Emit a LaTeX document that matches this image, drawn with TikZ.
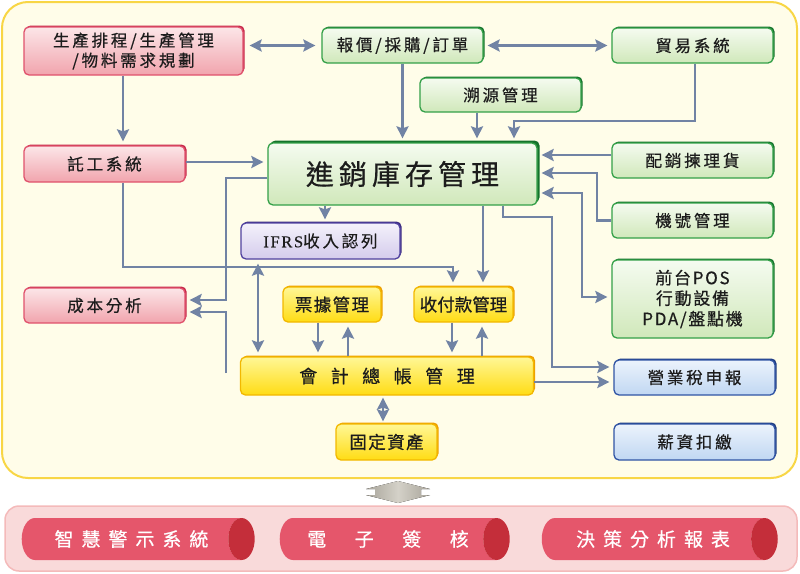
\documentclass[tikz,border=0pt]{standalone}
\usepackage{fontspec}
\setmainfont{Noto Sans CJK TC}[FakeBold=0.6]
\newfontfamily\latinserif{Liberation Serif}[FakeBold=0.4]
\usepackage{tikz}
\usetikzlibrary{positioning, arrows.meta, shapes.geometric, shadows, calc}
\definecolor{lineBlue}{RGB}{113,131,164}
\definecolor{panelFill}{RGB}{255,253,233}
\definecolor{panelEdge}{RGB}{248,214,70}
\definecolor{redEdge}{RGB}{224,82,108}
\definecolor{redDark}{RGB}{198,38,72}
\definecolor{redFill}{RGB}{241,164,173}
\definecolor{redTop}{RGB}{252,230,232}
\definecolor{greenEdge}{RGB}{52,160,72}
\definecolor{greenDark}{RGB}{20,114,44}
\definecolor{greenFill}{RGB}{208,232,186}
\definecolor{greenTop}{RGB}{245,251,240}
\definecolor{purpleEdge}{RGB}{80,66,160}
\definecolor{purpleDark}{RGB}{60,44,130}
\definecolor{purpleFill}{RGB}{212,204,236}
\definecolor{purpleTop}{RGB}{244,241,251}
\definecolor{yellowEdge}{RGB}{242,184,0}
\definecolor{yellowDark}{RGB}{238,158,0}
\definecolor{yellowFill}{RGB}{255,220,20}
\definecolor{yellowTop}{RGB}{255,247,150}
\definecolor{blueEdge}{RGB}{48,84,164}
\definecolor{blueDark}{RGB}{30,60,130}
\definecolor{blueFill}{RGB}{192,215,242}
\definecolor{blueTop}{RGB}{236,243,252}
\definecolor{pinkPanel}{RGB}{249,218,218}
\definecolor{pinkEdge}{RGB}{244,186,186}
\definecolor{tubeBody}{RGB}{229,86,107}
\definecolor{tubeEnd}{RGB}{196,46,58}
\definecolor{grayArrow}{RGB}{168,164,154}
\definecolor{grayLight}{RGB}{212,209,200}
\definecolor{ink}{RGB}{28,28,28}

\begin{document}
\begin{tikzpicture}[
  x=1pt, y=-1pt,
  every node/.style={text=ink},
  box/.style={rounded corners=5pt, inner sep=0pt, align=center, line width=1.3pt,
    minimum width=161pt, minimum height=35pt,
    font={\fontsize{16.5}{20}\selectfont\addfontfeatures{LetterSpace=17}}},
  rbox/.style={box, draw=redEdge, top color=redTop, bottom color=redFill,
    general shadow={fill=redDark, shadow xshift=1.5pt, shadow yshift=1.5pt}},
  gbox/.style={box, draw=greenEdge, top color=greenTop, bottom color=greenFill,
    general shadow={fill=greenDark, shadow xshift=1.5pt, shadow yshift=1.5pt}},
  pbox/.style={box, draw=purpleEdge, top color=purpleTop, bottom color=purpleFill,
    general shadow={fill=purpleDark, shadow xshift=1.5pt, shadow yshift=1.5pt}},
  ybox/.style={box, draw=yellowEdge, top color=yellowTop, bottom color=yellowFill,
    general shadow={fill=yellowDark, shadow xshift=1.5pt, shadow yshift=1.5pt},
    font={\fontsize{17.5}{20}\selectfont\addfontfeatures{LetterSpace=8}}},
  bbox/.style={box, draw=blueEdge, top color=blueTop, bottom color=blueFill,
    general shadow={fill=blueDark, shadow xshift=1.5pt, shadow yshift=1.5pt}},
  tube/.style={cylinder, shape border rotate=0, aspect=1.5, inner sep=0pt,
    minimum height=233pt, minimum width=42pt, cylinder uses custom fill,
    cylinder body fill=tubeBody, cylinder end fill=tubeEnd, text=white,
    font={\fontsize{19}{20}\selectfont\addfontfeatures{LetterSpace=42}}},
  ar/.style={draw=lineBlue, line width=2.6pt,
    -{Stealth[length=12pt, width=12pt, inset=2pt]}, shorten >=4pt},
  ar2/.style={ar, {Stealth[length=12pt, width=12pt, inset=2pt]}-{Stealth[length=12pt, width=12pt, inset=2pt]},
    shorten <=4pt},
]
  \useasboundingbox (0,0) rectangle (800,573);
  \draw[fill=panelFill, draw=panelEdge, line width=2pt, rounded corners=26pt]
    (2,2) rectangle (797,478);
  \draw[fill=pinkPanel, draw=pinkEdge, line width=1.5pt, rounded corners=14pt]
    (5,506) rectangle (797,571);

  \node[rbox, minimum width=219pt, minimum height=48pt] (prod) at (133.5,51)
    {生產排程/生產管理\\/物料需求規劃};
  \node[gbox] (quote) at (402.5,45.5) {報價/採購/訂單};
  \node[gbox] (trade) at (692.5,45.5) {貿易系統};
  \node[gbox, minimum height=34pt] (trace) at (500.5,95) {溯源管理};
  \node[rbox, minimum height=36pt] (outs) at (104.5,164) {託工系統};
  \node[gbox, minimum width=269pt, minimum height=62pt,
    general shadow={fill=greenDark, shadow xshift=2.5pt, shadow yshift=2.5pt},
    font={\fontsize{28}{30}\selectfont\addfontfeatures{LetterSpace=18}}] (inv) at (402.5,174)
    {進銷庫存管理};
  \node[gbox] (dist) at (692.5,160.5) {配銷揀理貨};
  \node[gbox] (serial) at (692.5,220.5) {機號管理};
  \node[pbox, minimum width=159pt, minimum height=36pt] (ifrs) at (320.5,241)
    {{\latinserif\addfontfeatures{LetterSpace=10}IFRS}收入認列};
  \node[gbox, minimum height=78pt,
    font={\fontsize{17}{20.5}\selectfont\addfontfeatures{LetterSpace=10}}] (pos) at (692.5,299)
    {前台POS\\行動設備\\PDA/盤點機};
  \node[rbox] (cost) at (104.5,305.5) {成本分析};
  \node[ybox, minimum width=98pt] (bill) at (332,304.5) {票據管理};
  \node[ybox, minimum width=99pt, font={\fontsize{17.5}{20}\selectfont}] (pay) at (463.5,304.5) {收付款管理};
  \node[ybox, minimum width=293pt, minimum height=38pt,
    font={\fontsize{18}{20}\selectfont\addfontfeatures{LetterSpace=75}}] (gl) at (387,376)
    {會計總帳管理};
  \node[bbox] (tax) at (694.5,377.5) {營業稅申報};
  \node[ybox, minimum width=101pt, minimum height=36pt] (asset) at (386.5,442) {固定資產};
  \node[bbox, minimum height=36pt] (salary) at (694.5,442) {薪資扣繳};

  \node[tube] (alert) at (131.5,539) {智慧警示系統};
  \node[tube, minimum height=230pt,
    font={\fontsize{19}{20}\selectfont\addfontfeatures{LetterSpace=150}}] (sign) at (388,539)
    {電子簽核};
  \node[tube, minimum height=236pt] (report) at (653,539) {決策分析報表};

  \filldraw[draw=none, left color=grayArrow, right color=grayArrow, middle color=grayLight]
    (398,481) -- (430,489) -- (421,489) -- (421,495) -- (430,495) -- (398,503)
    -- (366,495) -- (375,495) -- (375,489) -- (366,489) -- cycle;

  \draw[ar2, shorten <=6pt, shorten >=6pt] (prod.east |- quote.west) -- (quote.west);
  \draw[ar2] (quote.east) -- (trade.west);
  \draw[ar] ([xshift=-10.5pt]prod.south) -- ([xshift=-10.5pt]prod.south |- outs.north);
  \draw[ar] ([yshift=2pt]outs.east) -- ([yshift=2pt]outs.east -| inv.west);
  \draw[ar] (quote.south) -- (quote.south |- inv.north);
  \draw[ar] ([xshift=-23.5pt]trace.south) -- ([xshift=-23.5pt]trace.south |- inv.north);
  \coordinate (tradeBend) at (514,121);
  \draw[ar] ([xshift=2.5pt]trade.south) |- (tradeBend) -- (tradeBend |- inv.north);
  \draw[ar] ([yshift=5.5pt]dist.west) -- ([yshift=5.5pt]dist.west -| inv.east);
  \coordinate (serialBend) at (597,173);
  \draw[ar] (serial.west) -| (serialBend) -- (serialBend -| inv.east);
  \coordinate (posBend) at (582,193);
  \draw[ar2] (posBend -| inv.east) -- (posBend) |- ([yshift=2pt]pos.west);
  \coordinate (taxA) at (503,217);
  \coordinate (taxB) at (552,217);
  \draw[ar] (taxA |- inv.south) -- (taxA) -- (taxB) |- ([yshift=10.5pt]tax.west);
  \draw[ar] ([yshift=-6pt]gl.east) -- ([yshift=-6pt]gl.east -| tax.west);
  \draw[ar, shorten >=3pt] ([xshift=4.5pt]ifrs.north |- inv.south) -- ([xshift=4.5pt]ifrs.north);
  \draw[ar] ([xshift=19.5pt]pay.north |- inv.south) -- ([xshift=19.5pt]pay.north);
  \coordinate (outsA) at (123,267);
  \coordinate (outsB) at (453,267);
  \draw[ar] (outsA |- outs.south) -- (outsA) -- (outsB) -- (outsB |- pay.north);
  \coordinate (costA) at (226,178);
  \draw[ar] (costA -| inv.west) -- (costA) |- ([yshift=5.5pt]cost.east);
  \coordinate (costB) at (226,312);
  \draw[ar] ([yshift=3pt]costB |- gl.west) -- (costB) -- (costB -| cost.east);
  \draw[ar2] ([xshift=-62.5pt]ifrs.south) -- ([xshift=-62.5pt]ifrs.south |- gl.north);
  \draw[ar] ([xshift=-14pt]bill.south) -- ([xshift=-14pt]bill.south |- gl.north);
  \draw[ar] ([xshift=16pt]bill.south |- gl.north) -- ([xshift=16pt]bill.south);
  \draw[ar] ([xshift=-11.5pt]pay.south) -- ([xshift=-11.5pt]pay.south |- gl.north);
  \draw[ar] ([xshift=18.5pt]pay.south |- gl.north) -- ([xshift=18.5pt]pay.south);
  \draw[ar2, shorten <=2pt, shorten >=2pt] ([xshift=-3.5pt]asset.north |- gl.south) -- ([xshift=-3.5pt]asset.north);
\end{tikzpicture}
\end{document}
